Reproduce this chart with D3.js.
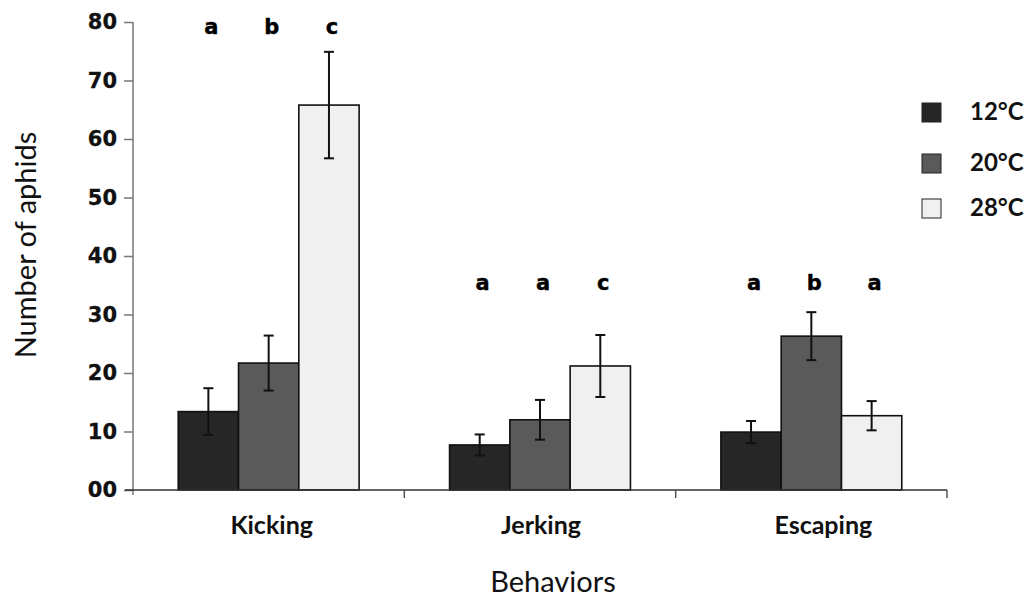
<!DOCTYPE html>
<html><head><meta charset="utf-8">
<script src="https://cdn.jsdelivr.net/npm/d3@7"></script>
<style>body{margin:0;background:#fff}</style>
</head><body>
<svg id="chart" width="1033" height="605"></svg>
<script>
const categories = ["Kicking", "Jerking", "Escaping"];
const seriesNames = ["12°C", "20°C", "28°C"];
const means = {
  "12°C": [13.4, 7.7, 9.9],
  "20°C": [21.7, 12.0, 26.3],
  "28°C": [65.8, 21.2, 12.7]
};
const errors = {
  "12°C": [4.0, 1.8, 1.9],
  "20°C": [4.7, 3.4, 4.1],
  "28°C": [9.1, 5.3, 2.5]
};
const letters = {
  "12°C": ["a", "a", "a"],
  "20°C": ["b", "a", "b"],
  "28°C": ["c", "c", "a"]
};
const yTicks = [0, 10, 20, 30, 40, 50, 60, 70, 80];
const yTickLabels = ["00", "10", "20", "30", "40", "50", "60", "70", "80"];
const colors = ["#262626", "#5a5a5a", "#f0f0f0"];

(function () {
const svg = d3.select("#chart");
const mLeft = 133, mRight = 947, mTop = 22, mBottom = 490;

const y = d3.scaleLinear().domain([0, 80]).range([mBottom, mTop]);
const x0 = d3.scaleBand().domain(categories).range([mLeft, mRight]).paddingInner(1/3).paddingOuter(1/6);
const x1 = d3.scaleBand().domain(seriesNames).range([0, x0.bandwidth()]);
const color = d3.scaleOrdinal().domain(seriesNames).range(colors);
const xb = d3.scaleBand().domain(categories).range([mLeft, mRight]);

const data = [];
categories.forEach((c, i) => seriesNames.forEach(s => data.push({c, s, v: means[s][i], e: errors[s][i], l: letters[s][i]})));

svg.append("g").selectAll("rect").data(data).join("rect")
  .attr("x", d => x0(d.c) + x1(d.s))
  .attr("y", d => y(d.v))
  .attr("width", x1.bandwidth())
  .attr("height", d => y(0) - y(d.v))
  .attr("fill", d => color(d.s))
  .attr("stroke", "#111")
  .attr("stroke-width", 1.6);

const eb = svg.append("g").attr("stroke", "#111").attr("stroke-width", 2);
data.forEach(d => {
  const cx = x0(d.c) + x1(d.s) + x1.bandwidth() / 2;
  eb.append("line").attr("x1", cx).attr("x2", cx).attr("y1", y(d.v + d.e)).attr("y2", y(d.v - d.e));
  eb.append("line").attr("x1", cx - 5).attr("x2", cx + 5).attr("y1", y(d.v + d.e)).attr("y2", y(d.v + d.e));
  eb.append("line").attr("x1", cx - 5).attr("x2", cx + 5).attr("y1", y(d.v - d.e)).attr("y2", y(d.v - d.e));
});

const letterY = {"Kicking": 80, "Jerking": 36.3, "Escaping": 36.3};
svg.append("g").selectAll("text").data(data).join("text")
  .attr("x", d => x0(d.c) + x1(d.s) + x1.bandwidth() / 2 + 3)
  .attr("y", d => y(letterY[d.c]) + 12)
  .attr("text-anchor", "middle")
  .attr("font-family", "DejaVu Sans")
  .attr("font-weight", "bold")
  .attr("font-size", 21)
  .attr("stroke", "#000").attr("stroke-width", 0.4)
  .text(d => d.l);

const yAxis = d3.axisLeft(y).tickValues(yTicks).tickFormat((d, i) => yTickLabels[i]).tickSize(9).tickPadding(7);
const gy = svg.append("g").attr("transform", `translate(${mLeft},0)`).call(yAxis);
gy.select(".domain").attr("stroke", "#777").attr("stroke-width", 1.5).attr("d", `M0,${mTop}V${mBottom + 5}`);
gy.selectAll(".tick line").attr("stroke", "#777").attr("stroke-width", 1.5);
gy.selectAll(".tick text").attr("font-family", "DejaVu Sans").attr("font-weight", "bold").attr("font-size", 21).attr("fill", "#111")
  .attr("stroke", "#111").attr("stroke-width", 0.3);

const labelShift = {"Kicking": 3, "Jerking": 1, "Escaping": 12};
const gx = svg.append("g").attr("transform", `translate(0,${mBottom})`);
gx.append("line").attr("x1", mLeft - 8).attr("x2", mRight).attr("y1", 0).attr("y2", 0).attr("stroke", "#333").attr("stroke-width", 1.5);
gx.selectAll("line.tk").data(categories).join("line").attr("class", "tk")
  .attr("x1", d => xb(d) + xb.bandwidth()).attr("x2", d => xb(d) + xb.bandwidth())
  .attr("y1", 0).attr("y2", 8).attr("stroke", "#555").attr("stroke-width", 1.5);
gx.selectAll("text").data(categories).join("text")
  .attr("x", d => x0(d) + x0.bandwidth() / 2 + labelShift[d])
  .attr("y", 44)
  .attr("text-anchor", "middle")
  .attr("font-family", "Lato")
  .attr("font-weight", "bold")
  .attr("font-size", 25)
  .attr("fill", "#111")
  .text(d => d);

svg.append("text").attr("x", 553).attr("y", 592).attr("text-anchor", "middle")
  .attr("font-family", "Lato").attr("font-size", 29).attr("fill", "#111").text("Behaviors");
svg.append("text").attr("transform", "translate(36,245) rotate(-90)").attr("text-anchor", "middle")
  .attr("font-family", "Lato").attr("font-size", 29).attr("fill", "#111").text("Number of aphids");

const legendY = [112, 163, 208];
const lg = svg.append("g");
seriesNames.forEach((s, i) => {
  lg.append("rect").attr("x", 922).attr("y", legendY[i] - 9).attr("width", 19).attr("height", 19)
    .attr("fill", color(s)).attr("stroke", "#222").attr("stroke-width", 1);
  lg.append("text").attr("x", 970).attr("y", legendY[i] + 8).attr("font-family", "Lato").attr("font-weight", "bold")
    .attr("font-size", 24).attr("fill", "#111").text(s);
});
})();
</script>
</body></html>
